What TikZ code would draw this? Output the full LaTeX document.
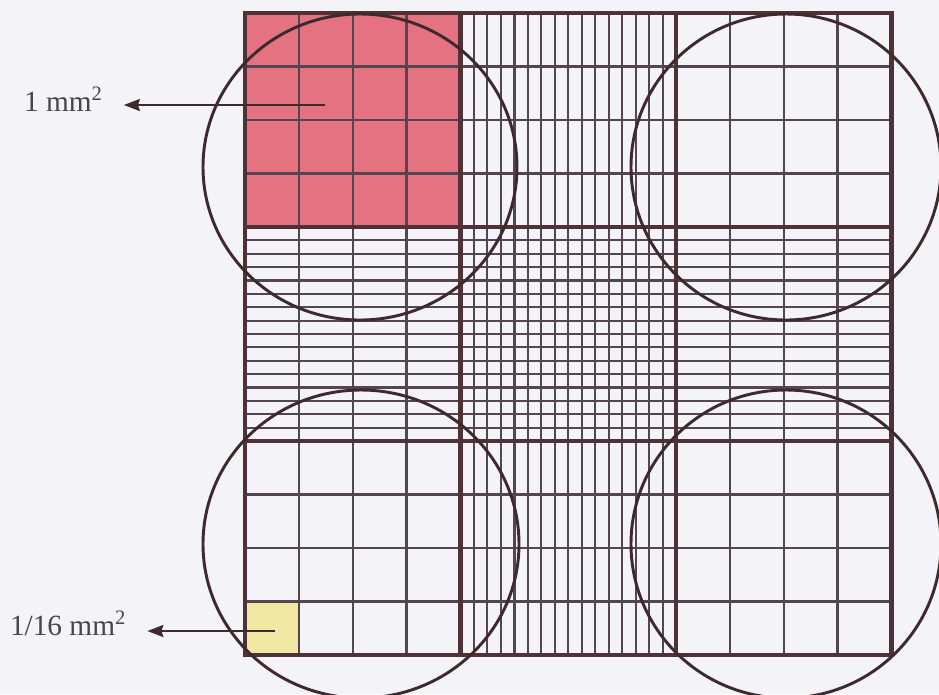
\documentclass[tikz,border=0pt]{standalone}
\usepackage{fontspec}
\setmainfont{Liberation Serif}
\usetikzlibrary{arrows.meta}
\definecolor{bgc}{RGB}{243,243,248}
\definecolor{thinc}{RGB}{84,70,80}
\definecolor{thickc}{RGB}{78,50,56}
\definecolor{circc}{RGB}{62,42,44}
\definecolor{pinkc}{RGB}{229,114,128}
\definecolor{yellowc}{RGB}{241,232,164}
\tikzset{
  fineln/.style={draw=thinc, line width=1.5pt},
  quarterln/.style={draw=thinc, line width=1.8pt},
  bigln/.style={draw=thickc, line width=3.2pt, line cap=rect},
  circln/.style={draw=circc, line width=2.2pt},
  arrln/.style={draw=circc, line width=1.6pt, -{Stealth[length=12pt,width=9pt,inset=1.5pt]}, shorten >=16pt},
  lbl/.style={inner sep=0pt, outer sep=0pt, text=black!72, font=\fontsize{22}{26}\selectfont}
}
\begin{document}
\begin{tikzpicture}[x=0.75pt,y=-0.75pt]
\fill[bgc] (0,0) rectangle (939,694);
\useasboundingbox (0,0) rectangle (939,694);
% coloured squares
\fill[pinkc] (245,13) rectangle (460.5,227);
\fill[yellowc] (245,601.5) rectangle (298.9,655);
% fine subdivisions
\foreach \i in {0,1,2}{
  \foreach \j in {0,1,2}{
    \pgfmathsetmacro\xa{245+215.5*\i}
    \pgfmathsetmacro\ya{13+214*\j}
    \pgfmathtruncatemacro\nv{\i==1 ? 16 : 4}
    \pgfmathtruncatemacro\nh{\j==1 ? 16 : 4}
    \pgfmathtruncatemacro\nvm{\nv-1}
    \pgfmathtruncatemacro\nhm{\nh-1}
    \foreach \k in {1,...,\nvm}{
      \draw[fineln] ({\xa+215.5*\k/\nv},\ya) -- ++(0,214);
    }
    \foreach \k in {1,...,\nhm}{
      \draw[fineln] (\xa,{\ya+214*\k/\nh}) -- ++(215.5,0);
    }
    \foreach \k in {1,2,3}{
      \draw[quarterln] ({\xa+215.5*\k/4},\ya) -- ++(0,214);
      \draw[quarterln] (\xa,{\ya+214*\k/4}) -- ++(215.5,0);
    }
  }
}
% main lines
\foreach \k in {0,1,2,3}{
  \draw[bigln] ({245+215.5*\k},13) -- ({245+215.5*\k},655);
  \draw[bigln] (245,{13+214*\k}) -- (891.5,{13+214*\k});
}
% circles
\draw[circln] (360,167) ellipse [x radius=157, y radius=153];
\draw[circln] (786,167) ellipse [x radius=155, y radius=153];
\draw[circln] (361,544) ellipse [x radius=158, y radius=154];
\draw[circln] (786,544) ellipse [x radius=155, y radius=154];
% labels and arrows
\node[lbl, anchor=base west] (l1) at (24,111) {1 mm\textsuperscript{2}};
\node[lbl, anchor=base west] (l2) at (10,635) {1/16 mm\textsuperscript{2}};
\coordinate (a1) at (325,105);
\coordinate (a2) at (275,631);
\draw[arrln] (a1) -- (a1 -| l1.east);
\draw[arrln] (a2) -- (a2 -| l2.east);
\end{tikzpicture}
\end{document}
